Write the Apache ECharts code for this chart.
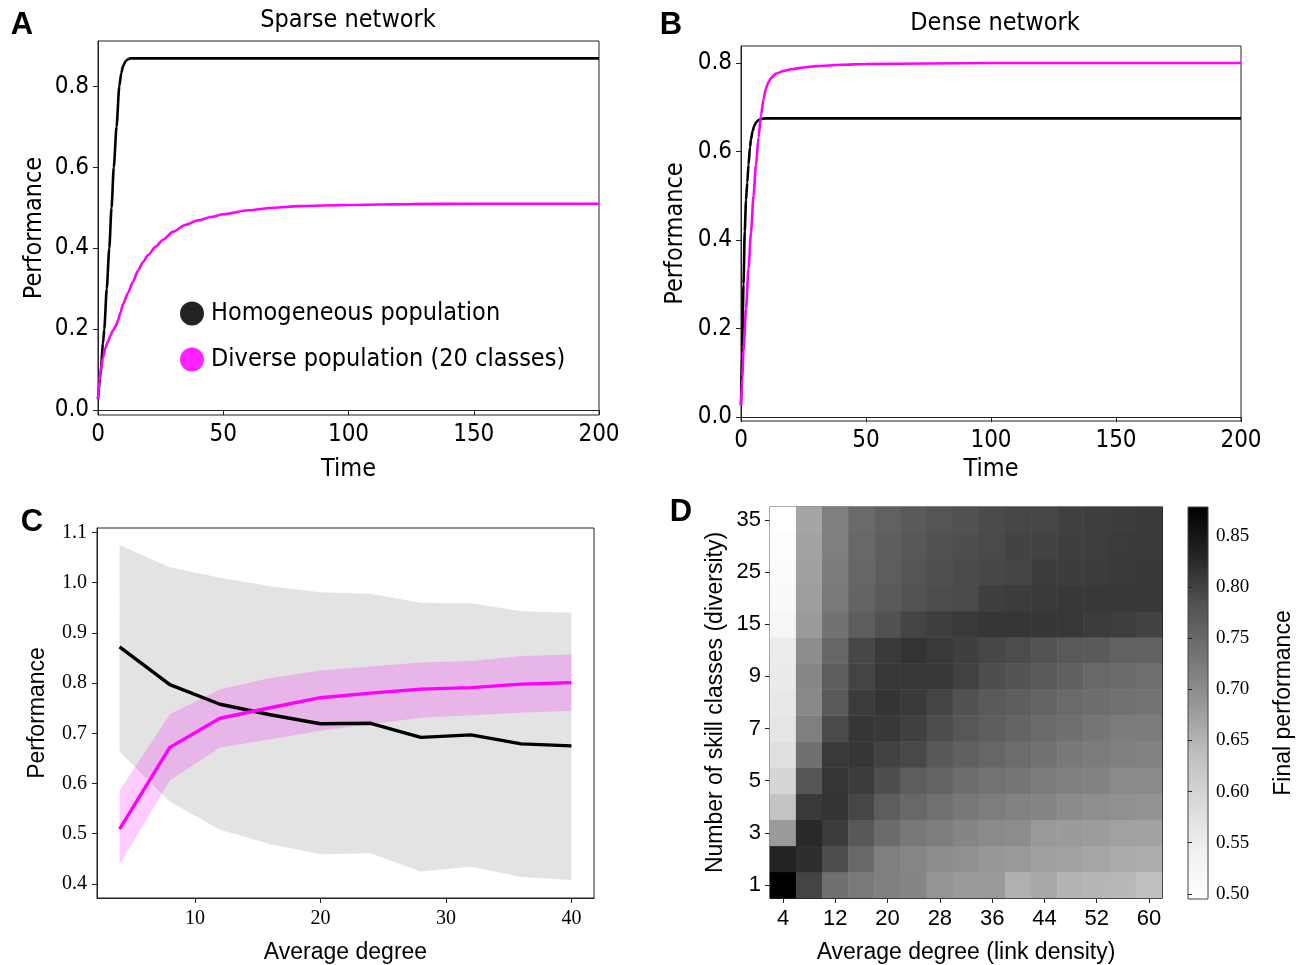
<!DOCTYPE html>
<html><head><meta charset="utf-8">
<script src="https://cdn.jsdelivr.net/npm/echarts@6/dist/echarts.min.js"></script>
<style>html,body{margin:0;padding:0;background:#fff}#c{width:1309px;height:965px}</style>
</head><body><div id="c"></div>
<script>
// ---------- Panel A: Sparse network ----------
const timeA_homog = [0,1,2,2.5,3.5,4.5,5.4,6.3,7.4,8.5,9.3,10,11,12,13,15,20,50,100,150,200];
const perfA_homog = [0.027,0.09,0.165,0.2,0.3,0.4,0.5,0.6,0.7,0.8,0.833,0.85,0.862,0.867,0.869,0.869,0.869,0.869,0.869,0.869,0.869];
const timeA_div = [0,0.5,1,2,3,4,5,6,7,8,9,10,12,14,16,18,20,23,26,30,35,40,45,50,60,70,80,100,125,150,200];
const perfA_div = [0.027,0.07,0.095,0.13,0.155,0.17,0.185,0.197,0.207,0.222,0.242,0.262,0.29,0.318,0.345,0.366,0.383,0.404,0.421,0.441,0.458,0.469,0.477,0.484,0.494,0.5,0.504,0.507,0.509,0.51,0.51];
// ---------- Panel B: Dense network ----------
const timeB_homog = [0,0.5,1,1.5,2,2.5,3,3.6,4,4.7,5.3,6,7,8,10,20,50,100,150,200];
const perfB_homog = [0.027,0.16,0.30,0.42,0.49,0.53,0.57,0.61,0.628,0.647,0.658,0.666,0.671,0.674,0.675,0.675,0.675,0.675,0.675,0.675];
const timeB_div = [0,0.5,1,2,3,4,5,6,7,8,9,10,11,12,14,17,20,25,30,40,50,75,100,150,200];
const perfB_div = [0.027,0.09,0.15,0.245,0.335,0.417,0.5,0.57,0.632,0.682,0.718,0.743,0.757,0.766,0.776,0.782,0.786,0.79,0.793,0.796,0.798,0.799,0.8,0.8,0.8];
const ticksA_x = [0,50,100,150,200];
const ticksAB_y = [0,0.2,0.4,0.6,0.8];
// ---------- Panel C ----------
const degreeC = [4,8,12,16,20,24,28,32,36,40];
const homogMean = [0.872,0.797,0.758,0.737,0.719,0.720,0.692,0.697,0.679,0.675];
const homogLow  = [0.664,0.564,0.508,0.479,0.459,0.461,0.425,0.434,0.414,0.408];
const homogHigh = [1.075,1.031,1.010,0.993,0.981,0.978,0.960,0.959,0.943,0.940];
const divMean = [0.509,0.672,0.730,0.751,0.771,0.780,0.788,0.791,0.798,0.801];
const divLow  = [0.438,0.606,0.672,0.688,0.705,0.718,0.731,0.736,0.741,0.745];
const divHigh = [0.586,0.738,0.788,0.810,0.825,0.833,0.841,0.844,0.854,0.857];
const ticksC_x = [10,20,30,40];
const ticksC_y = [0.4,0.5,0.6,0.7,0.8,0.9,1.0,1.1];
// ---------- Panel D ----------
const avgDegree = ['4','8','12','16','20','24','28','32','36','40','44','48','52','56','60'];
const skillClasses = ['1','2','3','4','5','6','7','8','9','10','15','20','25','30','35'];
// rows bottom (1 class) to top (35 classes), columns avg degree 4..60
const finalPerf = [
 [0.878,0.797,0.740,0.726,0.717,0.710,0.688,0.682,0.683,0.655,0.664,0.650,0.647,0.645,0.634],
 [0.834,0.821,0.787,0.750,0.718,0.708,0.700,0.695,0.685,0.683,0.676,0.673,0.667,0.662,0.660],
 [0.682,0.826,0.807,0.773,0.746,0.728,0.721,0.710,0.703,0.700,0.683,0.682,0.679,0.673,0.671],
 [0.628,0.809,0.814,0.795,0.767,0.750,0.737,0.728,0.721,0.714,0.710,0.702,0.698,0.695,0.689],
 [0.596,0.778,0.812,0.806,0.787,0.767,0.756,0.743,0.734,0.730,0.723,0.717,0.714,0.703,0.703],
 [0.578,0.740,0.809,0.812,0.799,0.793,0.773,0.762,0.753,0.745,0.736,0.728,0.724,0.718,0.714],
 [0.566,0.718,0.791,0.812,0.810,0.801,0.788,0.775,0.765,0.756,0.747,0.740,0.730,0.724,0.724],
 [0.560,0.704,0.772,0.807,0.814,0.808,0.797,0.782,0.770,0.765,0.756,0.747,0.743,0.737,0.733],
 [0.553,0.707,0.765,0.797,0.811,0.810,0.810,0.799,0.787,0.779,0.770,0.762,0.750,0.746,0.742],
 [0.551,0.699,0.753,0.794,0.808,0.815,0.809,0.802,0.794,0.789,0.781,0.772,0.770,0.759,0.758],
 [0.524,0.681,0.736,0.766,0.782,0.797,0.804,0.809,0.812,0.812,0.812,0.811,0.806,0.804,0.798],
 [0.514,0.677,0.726,0.756,0.770,0.781,0.789,0.791,0.802,0.806,0.808,0.810,0.810,0.810,0.810],
 [0.508,0.674,0.722,0.753,0.767,0.778,0.784,0.791,0.794,0.797,0.805,0.805,0.806,0.809,0.810],
 [0.501,0.672,0.718,0.750,0.763,0.773,0.782,0.787,0.791,0.798,0.798,0.802,0.804,0.807,0.808],
 [0.496,0.668,0.718,0.747,0.759,0.770,0.778,0.782,0.790,0.794,0.795,0.801,0.804,0.805,0.808]
];
const perfMin = 0.495, perfMax = 0.878;
const ticksCbar = [0.50,0.55,0.60,0.65,0.70,0.75,0.80,0.85];

// ---------- styling ----------
const GREYS = ['#ffffff','#f0f0f0','#d9d9d9','#bdbdbd','#969696','#737373','#525252','#252525','#000000'];
const COND = '"DejaVu Sans Condensed","Liberation Sans Narrow","DejaVu Sans",sans-serif';
const SANS = '"Liberation Sans",Arial,sans-serif';
const SERIF = '"Liberation Serif","DejaVu Serif",serif';
const MAG = '#ff00ff';
const zip = (xs, ys) => xs.map((x, i) => [x, ys[i]]);

function axisBase(font, size) {
  return {
    axisLine: { show: true, lineStyle: { color: '#222', width: 1 } },
    axisTick: { show: true, inside: false, length: 5, lineStyle: { color: '#222', width: 1 } },
    splitLine: { show: false },
    axisLabel: { color: '#000', fontFamily: font, fontSize: size },
    nameTextStyle: { color: '#000' }
  };
}
function valAxis(gridIndex, min, max, ticks, font, size, fmt, extra) {
  const b = axisBase(font, size);
  return Object.assign({
    type: 'value', gridIndex, min, max, scale: true,
    axisLine: b.axisLine,
    axisTick: Object.assign({}, b.axisTick, { customValues: ticks }),
    axisLabel: Object.assign({}, b.axisLabel, { customValues: ticks, formatter: fmt }),
    splitLine: b.splitLine,
    nameTextStyle: b.nameTextStyle
  }, extra || {});
}
const gridFrame = { show: true, borderColor: '#222', borderWidth: 1, backgroundColor: 'transparent', containLabel: false };

const cbGradient = {
  type: 'linear', x: 0, y: 0, x2: 0, y2: 1,
  colorStops: GREYS.slice().reverse().map((c, i) => ({ offset: i / (GREYS.length - 1), color: c }))
};

const heatData = [];
finalPerf.forEach((row, yi) => row.forEach((v, xi) => heatData.push([xi, yi, v])));

// band polygon through the axis scales
function bandRenderer(xs, lo, hi, fill) {
  return function (params, api) {
    const pts = [];
    for (let i = 0; i < xs.length; i++) pts.push(api.coord([xs[i], hi[i]]));
    for (let i = xs.length - 1; i >= 0; i--) pts.push(api.coord([xs[i], lo[i]]));
    return { type: 'polygon', shape: { points: pts }, style: { fill: fill }, silent: true };
  };
}

const option = {
  animation: false,
  backgroundColor: '#fff',
  grid: [
    Object.assign({ left: 98, top: 41, width: 501, height: 374 }, gridFrame),
    Object.assign({ left: 741, top: 46, width: 500, height: 375 }, gridFrame),
    Object.assign({ left: 97, top: 528, width: 497, height: 370 }, gridFrame),
    Object.assign({ left: 770, top: 507, width: 392, height: 392 }, gridFrame),
    { left: 1188, top: 507, width: 20, height: 392, show: true, borderColor: '#444', borderWidth: 1, backgroundColor: cbGradient }
  ],
  xAxis: [
    valAxis(0, 0, 200, ticksA_x, COND, 24, v => String(v), { name: 'Time', nameLocation: 'middle', nameGap: 42, nameTextStyle: { fontFamily: COND, fontSize: 25, color: '#000' }, axisLabel: { customValues: ticksA_x, color: '#000', fontFamily: COND, fontSize: 24, margin: 8 } }),
    valAxis(1, 0, 200, ticksA_x, COND, 24, v => String(v), { name: 'Time', nameLocation: 'middle', nameGap: 36, nameTextStyle: { fontFamily: COND, fontSize: 25, color: '#000' }, axisLabel: { customValues: ticksA_x, color: '#000', fontFamily: COND, fontSize: 24, margin: 8 } }),
    valAxis(2, 2.2, 41.8, ticksC_x, SERIF, 20, v => String(v), { name: 'Average degree', nameLocation: 'middle', nameGap: 43, nameTextStyle: { fontFamily: SANS, fontSize: 23, color: '#000' }, axisLabel: { customValues: ticksC_x, color: '#000', fontFamily: SERIF, fontSize: 20, margin: 11 } }),
    Object.assign(axisBase(SANS, 22), {
      type: 'category', gridIndex: 3, data: avgDegree, boundaryGap: true,
      axisTick: { show: true, length: 5, interval: 1, alignWithLabel: true, lineStyle: { color: '#222' } },
      axisLabel: { interval: 1, color: '#000', fontFamily: SANS, fontSize: 22, margin: 10 },
      name: 'Average degree (link density)', nameLocation: 'middle', nameGap: 43,
      nameTextStyle: { fontFamily: SANS, fontSize: 23, color: '#000' }
    }),
    { type: 'value', gridIndex: 4, min: 0, max: 1, show: false },
    { type: 'category', gridIndex: 3, data: avgDegree, position: 'top', axisLine: { show: true, lineStyle: { color: '#222' } }, axisTick: { show: false }, axisLabel: { show: false }, splitLine: { show: false } }
  ],
  yAxis: [
    valAxis(0, -0.012, 0.912, ticksAB_y, COND, 24, v => v.toFixed(1), { name: 'Performance', nameLocation: 'middle', nameGap: 51, nameTextStyle: { fontFamily: COND, fontSize: 25, color: '#000' }, axisLabel: { customValues: ticksAB_y, formatter: v => v.toFixed(1), color: '#000', fontFamily: COND, fontSize: 24, margin: 9 } }),
    valAxis(1, -0.0085, 0.8385, ticksAB_y, COND, 24, v => v.toFixed(1), { name: 'Performance', nameLocation: 'middle', nameGap: 53, nameTextStyle: { fontFamily: COND, fontSize: 25, color: '#000' }, axisLabel: { customValues: ticksAB_y, formatter: v => v.toFixed(1), color: '#000', fontFamily: COND, fontSize: 24, margin: 9 } }),
    valAxis(2, 0.372, 1.109, ticksC_y, SERIF, 20, v => v.toFixed(1), { name: 'Performance', nameLocation: 'middle', nameGap: 48, nameTextStyle: { fontFamily: SANS, fontSize: 23, color: '#000' }, axisLabel: { customValues: ticksC_y, formatter: v => v.toFixed(1), color: '#000', fontFamily: SERIF, fontSize: 20, margin: 10 } }),
    Object.assign(axisBase(SANS, 22), {
      type: 'category', gridIndex: 3, data: skillClasses, boundaryGap: true,
      axisTick: { show: true, length: 5, interval: 1, alignWithLabel: true, lineStyle: { color: '#222' } },
      axisLabel: { interval: 1, color: '#000', fontFamily: SANS, fontSize: 22, margin: 9 },
      name: 'Number of skill classes (diversity)', nameLocation: 'middle', nameGap: 43,
      nameTextStyle: { fontFamily: SANS, fontSize: 23, color: '#000' }
    }),
    valAxis(4, perfMin, perfMax, ticksCbar, SERIF, 19, v => v.toFixed(2), {
      position: 'right', axisLine: { show: false },
      name: 'Final performance', nameLocation: 'middle', nameGap: 64, nameRotate: 90,
      nameTextStyle: { fontFamily: SANS, fontSize: 23, color: '#000' },
      axisTick: { show: true, length: 4, customValues: ticksCbar, lineStyle: { color: '#222' } },
      axisLabel: { customValues: ticksCbar, formatter: v => v.toFixed(2), color: '#000', fontFamily: SERIF, fontSize: 19, margin: 8 }
    }),
    { type: 'category', gridIndex: 3, data: skillClasses, position: 'right', axisLine: { show: true, lineStyle: { color: '#222' } }, axisTick: { show: false }, axisLabel: { show: false }, splitLine: { show: false } }
  ],
  visualMap: {
    show: false, type: 'continuous', min: perfMin, max: perfMax, seriesIndex: 8,
    inRange: { color: GREYS }
  },
  legend: {
    data: [{ name: 'Homogeneous population', icon: 'circle', itemStyle: { color: '#222' } },
           { name: 'Diverse population (20 classes)', icon: 'circle', itemStyle: { color: '#ff22ff' } }],
    orient: 'vertical', left: 175, top: 296, itemWidth: 24, itemHeight: 24, itemGap: 21,
    selectedMode: false,
    textStyle: { fontFamily: COND, fontSize: 25, color: '#000', padding: [0, 0, 0, 2] }
  },
  graphic: [
    { type: 'text', x: 22, y: 25, style: { text: 'A', font: 'bold 31px "Liberation Sans",Arial,sans-serif', fill: '#000', textAlign: 'center', textVerticalAlign: 'middle' } },
    { type: 'text', x: 671, y: 25, style: { text: 'B', font: 'bold 31px "Liberation Sans",Arial,sans-serif', fill: '#000', textAlign: 'center', textVerticalAlign: 'middle' } },
    { type: 'text', x: 32, y: 522, style: { text: 'C', font: 'bold 31px "Liberation Sans",Arial,sans-serif', fill: '#000', textAlign: 'center', textVerticalAlign: 'middle' } },
    { type: 'text', x: 681, y: 512, style: { text: 'D', font: 'bold 31px "Liberation Sans",Arial,sans-serif', fill: '#000', textAlign: 'center', textVerticalAlign: 'middle' } },
    { type: 'text', x: 348, y: 20, style: { text: 'Sparse network', font: '25px ' + COND, fill: '#000', textAlign: 'center', textVerticalAlign: 'middle' } },
    { type: 'text', x: 995, y: 23, style: { text: 'Dense network', font: '25px ' + COND, fill: '#000', textAlign: 'center', textVerticalAlign: 'middle' } }
  ],
  series: [
    // 0,1 Panel A
    { type: 'line', name: 'Homogeneous population', xAxisIndex: 0, yAxisIndex: 0, data: zip(timeA_homog, perfA_homog), symbol: 'none', smooth: 0.25, smoothMonotone: 'x', lineStyle: { color: '#000', width: 2.6 }, itemStyle: { color: '#222' }, z: 3 },
    { type: 'line', name: 'Diverse population (20 classes)', xAxisIndex: 0, yAxisIndex: 0, data: zip(timeA_div, perfA_div), symbol: 'none', smooth: 0.25, smoothMonotone: 'x', lineStyle: { color: MAG, width: 2.6 }, itemStyle: { color: '#ff22ff' }, z: 3 },
    // 2,3 Panel B
    { type: 'line', name: 'B homogeneous', xAxisIndex: 1, yAxisIndex: 1, data: zip(timeB_homog, perfB_homog), symbol: 'none', smooth: 0.25, smoothMonotone: 'x', lineStyle: { color: '#000', width: 2.6 }, z: 3 },
    { type: 'line', name: 'B diverse', xAxisIndex: 1, yAxisIndex: 1, data: zip(timeB_div, perfB_div), symbol: 'none', smooth: 0.25, smoothMonotone: 'x', lineStyle: { color: MAG, width: 2.6 }, z: 4 },
    // 4..7 Panel C bands and lines
    { type: 'custom', name: 'C homogeneous band', xAxisIndex: 2, yAxisIndex: 2, data: [[degreeC[0], homogMean[0]]], renderItem: bandRenderer(degreeC, homogLow, homogHigh, '#e3e3e3'), silent: true, z: 1 },
    { type: 'custom', name: 'C diverse band', xAxisIndex: 2, yAxisIndex: 2, data: [[degreeC[0], divMean[0]]], renderItem: bandRenderer(degreeC, divLow, divHigh, 'rgba(255,0,255,0.2)'), silent: true, z: 2 },
    { type: 'line', name: 'C homogeneous', xAxisIndex: 2, yAxisIndex: 2, data: zip(degreeC, homogMean), symbol: 'none', lineStyle: { color: '#000', width: 3.4 }, z: 3 },
    { type: 'line', name: 'C diverse', xAxisIndex: 2, yAxisIndex: 2, data: zip(degreeC, divMean), symbol: 'none', lineStyle: { color: MAG, width: 3.4 }, z: 4 },
    // 8 heatmap
    { type: 'heatmap', name: 'Final performance', xAxisIndex: 3, yAxisIndex: 3, data: heatData, itemStyle: { borderWidth: 0 }, emphasis: { disabled: true }, z: 2 }
  ]
};
const chart = echarts.init(document.getElementById('c'), null, { renderer: 'canvas' });
chart.setOption(option);
</script>
</body></html>
